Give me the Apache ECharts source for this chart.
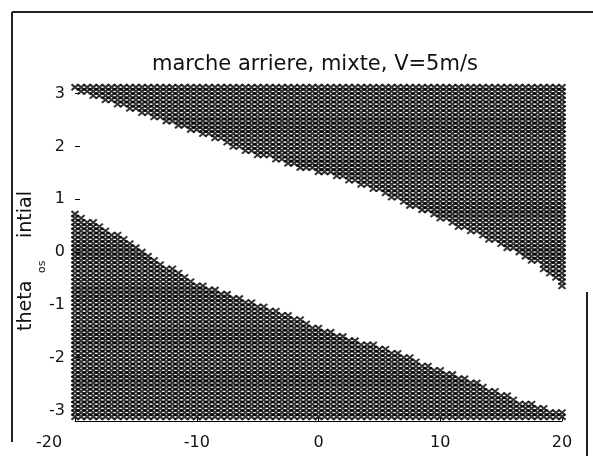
<!DOCTYPE html>
<html>
<head>
<meta charset="utf-8">
<script src="https://cdn.jsdelivr.net/npm/echarts@6/dist/echarts.min.js"></script>
<style>
html,body{margin:0;padding:0;background:#fff;}
#chart{width:593px;height:456px;}
</style>
</head>
<body>
<div id="chart"></div>
<script>
// Sampled x values (columns of the grid)
var xCols = [-20,-19.5,-19,-18.5,-18,-17.5,-17,-16.5,-16,-15.5,-15,-14.5,-14,-13.5,-13,-12.5,-12,-11.5,-11,-10.5,-10,-9.5,-9,-8.5,-8,-7.5,-7,-6.5,-6,-5.5,-5,-4.5,-4,-3.5,-3,-2.5,-2,-1.5,-1,-0.5,0,0.5,1,1.5,2,2.5,3,3.5,4,4.5,5,5.5,6,6.5,7,7.5,8,8.5,9,9.5,10,10.5,11,11.5,12,12.5,13,13.5,14,14.5,15,15.5,16,16.5,17,17.5,18,18.5,19,19.5,20];
// Sampled initial theta values (rows of the grid)
var thetaRows = [-3.12,-3.04,-2.96,-2.88,-2.80,-2.72,-2.64,-2.56,-2.48,-2.40,-2.32,-2.24,-2.16,-2.08,-2.00,-1.92,-1.84,-1.76,-1.68,-1.60,-1.52,-1.44,-1.36,-1.28,-1.20,-1.12,-1.04,-0.96,-0.88,-0.80,-0.72,-0.64,-0.56,-0.48,-0.40,-0.32,-0.24,-0.16,-0.08,0,0.08,0.16,0.24,0.32,0.40,0.48,0.56,0.64,0.72,0.80,0.88,0.96,1.04,1.12,1.20,1.28,1.36,1.44,1.52,1.60,1.68,1.76,1.84,1.92,2.00,2.08,2.16,2.24,2.32,2.40,2.48,2.56,2.64,2.72,2.80,2.88,2.96,3.04,3.12];
// Lowest theta of the upper marked region, per column
var upperEdge = [3.08,3.04,3.00,2.96,2.92,2.88,2.84,2.80,2.76,2.72,2.68,2.64,2.60,2.56,2.52,2.48,2.44,2.40,2.36,2.32,2.27,2.23,2.18,2.14,2.09,2.05,2.00,1.96,1.92,1.88,1.84,1.81,1.77,1.74,1.70,1.67,1.63,1.60,1.57,1.54,1.51,1.48,1.45,1.42,1.39,1.36,1.32,1.28,1.23,1.18,1.13,1.08,1.03,0.98,0.93,0.88,0.83,0.78,0.73,0.68,0.63,0.58,0.53,0.48,0.43,0.38,0.33,0.28,0.23,0.18,0.13,0.08,0.03,-0.03,-0.09,-0.16,-0.23,-0.32,-0.42,-0.54,-0.68];
// Highest theta of the lower marked region, per column
var lowerEdge = [0.75,0.68,0.62,0.56,0.50,0.44,0.38,0.32,0.26,0.19,0.12,0.05,-0.03,-0.10,-0.18,-0.25,-0.32,-0.39,-0.46,-0.52,-0.58,-0.63,-0.67,-0.71,-0.75,-0.79,-0.83,-0.87,-0.90,-0.94,-0.97,-1.01,-1.05,-1.10,-1.14,-1.19,-1.23,-1.28,-1.32,-1.37,-1.41,-1.45,-1.49,-1.53,-1.57,-1.61,-1.65,-1.69,-1.72,-1.76,-1.80,-1.84,-1.87,-1.91,-1.95,-2.00,-2.04,-2.09,-2.14,-2.19,-2.24,-2.28,-2.31,-2.35,-2.39,-2.44,-2.48,-2.53,-2.57,-2.62,-2.67,-2.72,-2.77,-2.81,-2.84,-2.88,-2.91,-2.94,-2.97,-3.00,-3.04];
var xTicks = [-20,-10,0,10,20];
var yTicks = [-3,-2,-1,0,1,2,3];
var titleText = 'marche arriere, mixte, V=5m/s';
var yNameMain = 'theta', yNameSub = 'os', yNameRest = 'intial';

var pts = [];
for (var i = 0; i < xCols.length; i++) {
  for (var j = 0; j < thetaRows.length; j++) {
    var t = thetaRows[j];
    if (t >= upperEdge[i] - 1e-6 || t <= lowerEdge[i] + 1e-6) {
      pts.push([xCols[i], t]);
    }
  }
}

var chart = echarts.init(document.getElementById('chart'), null, {renderer: 'canvas'});
var font = 'DejaVu Sans';
var R = Math.PI / 2;
chart.setOption({
  animation: false,
  backgroundColor: '#fff',
  title: {
    text: titleText,
    left: 147, top: 49,
    textStyle: {fontFamily: font, fontSize: 21, fontWeight: 'normal', color: '#111'}
  },
  grid: {left: 75, right: 31, top: 83, bottom: 35, outerBoundsMode: 'none', containLabel: false},
  xAxis: {
    type: 'value', min: -20, max: 20, interval: 10,
    axisLine: {show: true, onZero: false, lineStyle: {color: '#000', width: 1}},
    axisTick: {show: true, inside: true, length: 4, lineStyle: {color: '#000'}},
    axisLabel: {
      fontFamily: font, fontSize: 16, color: '#111', margin: 14,
      formatter: function (v) { return v === -20 ? '{l|' + v + '}' : '' + v; },
      rich: {l: {fontFamily: font, fontSize: 16, color: '#111', padding: [0, 52, 0, 0]}}
    },
    splitLine: {show: false}
  },
  yAxis: {
    type: 'value', min: -3.2, max: 3.2,
    axisLine: {show: false, onZero: false},
    axisTick: {show: true, inside: true, length: 5, lineStyle: {color: '#000'}, customValues: yTicks},
    axisLabel: {fontFamily: font, fontSize: 16, color: '#111', margin: 10, customValues: yTicks},
    splitLine: {show: false}
  },
  series: [{
    type: 'scatter',
    data: pts,
    symbol: 'path://M0,0L10,10M10,0L0,10',
    symbolSize: [7, 6],
    itemStyle: {color: 'rgba(0,0,0,0)', borderColor: '#000', borderWidth: 2},
    large: false,
    silent: true
  }],
  graphic: [
    {type: 'line', shape: {x1: 12, y1: 12, x2: 593, y2: 12}, style: {stroke: '#222', lineWidth: 2}},
    {type: 'line', shape: {x1: 12, y1: 12, x2: 12, y2: 442}, style: {stroke: '#222', lineWidth: 2}},
    {type: 'line', shape: {x1: 587, y1: 292, x2: 587, y2: 456}, style: {stroke: '#222', lineWidth: 2}},
    {type: 'text', x: 26, y: 331, rotation: R,
     style: {text: yNameMain, font: '19px "DejaVu Sans"', fill: '#111', textAlign: 'left', textVerticalAlign: 'middle'}},
    {type: 'text', x: 42, y: 273, rotation: R,
     style: {text: yNameSub, font: '11px "DejaVu Sans"', fill: '#111', textAlign: 'left', textVerticalAlign: 'middle'}},
    {type: 'text', x: 26, y: 238, rotation: R,
     style: {text: yNameRest, font: '19px "DejaVu Sans"', fill: '#111', textAlign: 'left', textVerticalAlign: 'middle'}}
  ]
});
</script>
</body>
</html>
